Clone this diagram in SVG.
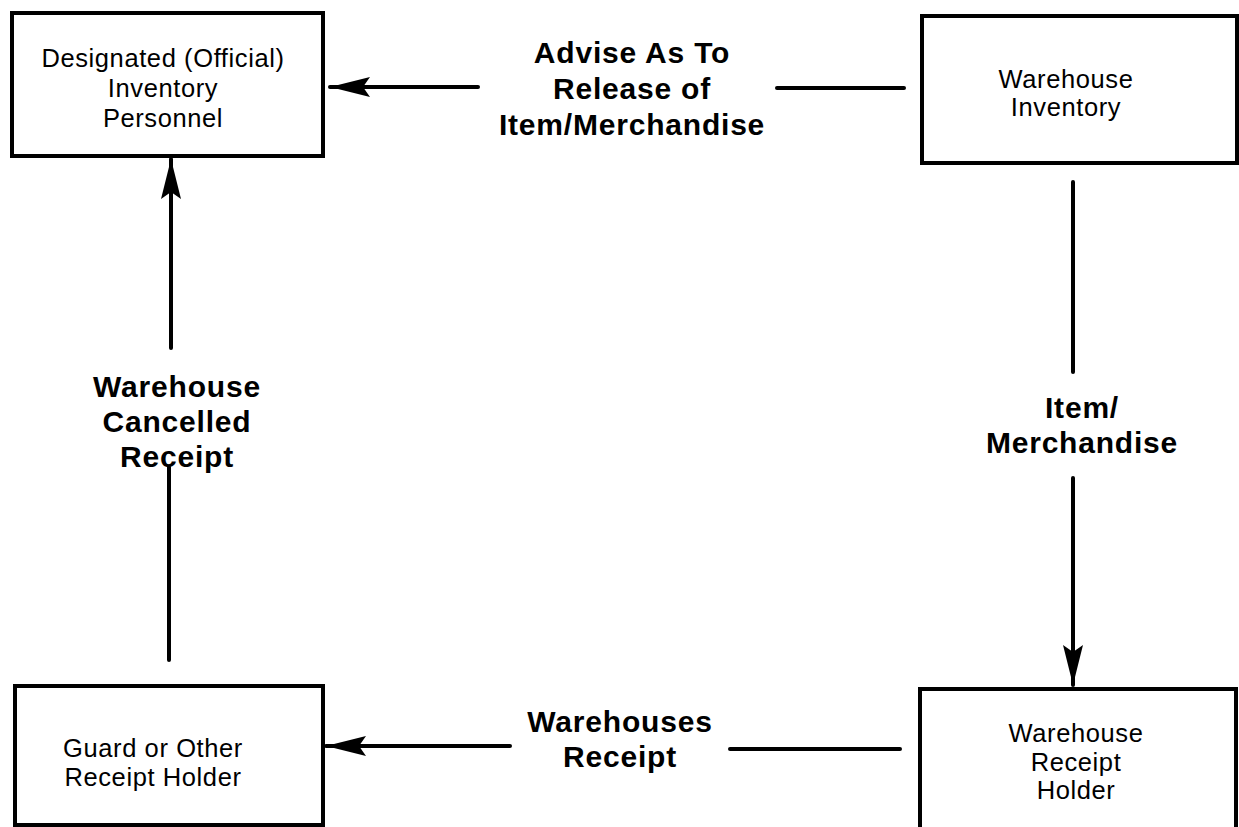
<svg xmlns="http://www.w3.org/2000/svg" width="1239" height="827" viewBox="0 0 1239 827">
<style>
.box{fill:#fff;stroke:#000;stroke-width:4}
.bt{font-family:"Liberation Sans",Arial,sans-serif;font-size:25.5px;fill:#000;text-anchor:middle;letter-spacing:0.6px}
.lb{font-family:"Liberation Sans",Arial,sans-serif;font-size:30px;font-weight:bold;fill:#000;text-anchor:middle;letter-spacing:0.8px}
.ln{stroke:#000;stroke-width:4;fill:none;stroke-linecap:round}
</style>
<defs>
<marker id="ah" markerUnits="userSpaceOnUse" markerWidth="44" markerHeight="26" viewBox="-42 -13 44 26" refX="0" refY="0" orient="auto">
<path d="M0,0 L-40,-10 L-33,0 L-40,10 Z" fill="#000"/>
</marker>
</defs>
<rect width="1239" height="827" fill="#fff"/>
<g id="node-designated">
<rect class="box" x="12" y="13" width="311" height="143"/>
<text class="bt" x="163" y="67">Designated (Official)</text>
<text class="bt" x="163" y="97">Inventory</text>
<text class="bt" x="163" y="127">Personnel</text>
</g>
<g id="node-warehouse-inventory">
<rect class="box" x="922" y="16" width="315" height="147"/>
<text class="bt" x="1066" y="88">Warehouse</text>
<text class="bt" x="1066" y="116">Inventory</text>
</g>
<g id="node-guard">
<rect class="box" x="15" y="686" width="308" height="139"/>
<text class="bt" x="153" y="757">Guard or Other</text>
<text class="bt" x="153" y="786">Receipt Holder</text>
</g>
<g id="node-warehouse-receipt-holder">
<rect class="box" x="920" y="689" width="316" height="145"/>
<text class="bt" x="1076" y="742">Warehouse</text>
<text class="bt" x="1076" y="771">Receipt</text>
<text class="bt" x="1076" y="799">Holder</text>
</g>
<g id="connectors">
<line class="ln" x1="904" y1="88" x2="777" y2="88"/>
<line class="ln" x1="478" y1="87" x2="330" y2="87" marker-end="url(#ah)"/>
<line class="ln" x1="171" y1="348" x2="171" y2="159" marker-end="url(#ah)"/>
<line class="ln" x1="169" y1="660" x2="169" y2="467"/>
<line class="ln" x1="1073" y1="182" x2="1073" y2="372"/>
<line class="ln" x1="1073" y1="478" x2="1073" y2="685" marker-end="url(#ah)"/>
<line class="ln" x1="900" y1="749" x2="730" y2="749"/>
<line class="ln" x1="510" y1="746" x2="326" y2="746" marker-end="url(#ah)"/>
</g>
<g id="labels">
<text class="lb" x="632" y="63">Advise As To</text>
<text class="lb" x="632" y="99">Release of</text>
<text class="lb" x="632" y="135">Item/Merchandise</text>
<text class="lb" x="177" y="397">Warehouse</text>
<text class="lb" x="177" y="432">Cancelled</text>
<text class="lb" x="177" y="467">Receipt</text>
<text class="lb" x="1082" y="418">Item/</text>
<text class="lb" x="1082" y="453">Merchandise</text>
<text class="lb" x="620" y="732">Warehouses</text>
<text class="lb" x="620" y="767">Receipt</text>
</g>
</svg>
